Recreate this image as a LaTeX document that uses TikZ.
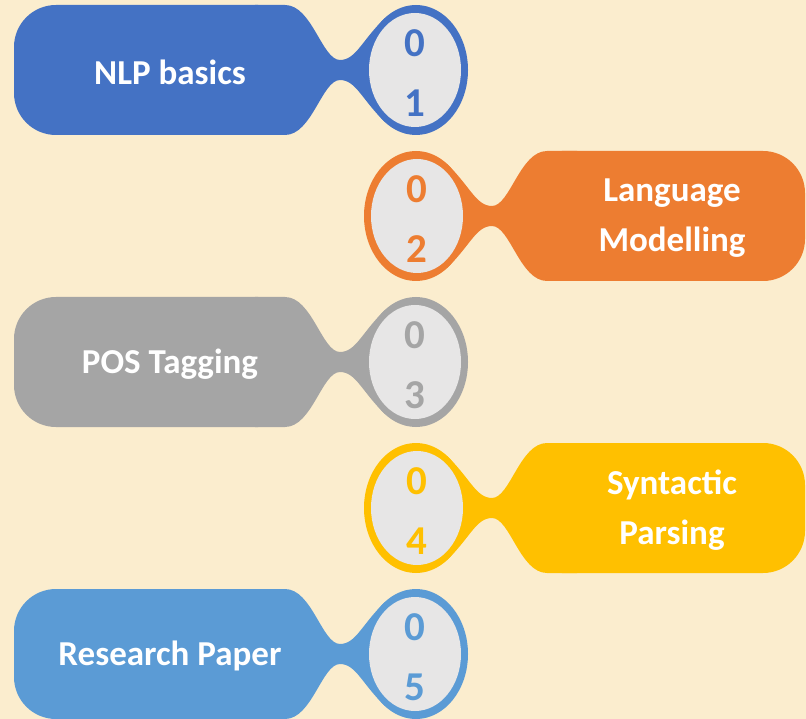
\documentclass[tikz,border=0pt]{standalone}
\usepackage{fontspec}
\setmainfont{Carlito}
\definecolor{bgc}{HTML}{FBEDCE}
\definecolor{inn}{HTML}{E7E6E6}
\definecolor{cA}{HTML}{4472C4}
\definecolor{cB}{HTML}{ED7D31}
\definecolor{cC}{HTML}{A5A5A5}
\definecolor{cD}{HTML}{FFC000}
\definecolor{cE}{HTML}{5B9BD5}
\tikzset{
  lbl/.style={text=white,font=\fontsize{35}{50}\selectfont\bfseries,align=center,inner sep=0pt},
  dig/.style={font=\fontsize{41}{44}\selectfont\bfseries,inner sep=0pt},
}
\newcommand{\leftitem}[5]{%
  \begin{scope}[shift={(0,#1)}]
    \fill[#2,rounded corners=42] (14,-65) rectangle (300,65);
    \fill[#2] (255,-65) -- (285,-65) .. controls (312,-65) and (322,-10) .. (340,-10)
      .. controls (356,-10) and (362,-30) .. (385,-52) -- (385,52)
      .. controls (362,30) and (356,10) .. (340,10)
      .. controls (322,10) and (312,65) .. (285,65) -- (255,65) -- cycle;
    \fill[#2] (416,0) ellipse [x radius=52, y radius=65];
    \fill[inn] (415,0) ellipse [x radius=46, y radius=57];
    \node[lbl] (t#5) at (170,2) {#3};
    \node[dig,text=#2] (d#5a) at (415,-27) {0};
    \node[dig,text=#2] (d#5b) at (415,33) {#4};
  \end{scope}}
\newcommand{\rightitem}[5]{%
  \begin{scope}[shift={(0,#1)}]
    \fill[#2,rounded corners=42] (520,-65) rectangle (805,65);
    \fill[#2] (577,-65) -- (547,-65) .. controls (520,-65) and (510,-10) .. (492,-10)
      .. controls (476,-10) and (470,-30) .. (447,-52) -- (447,52)
      .. controls (470,30) and (476,10) .. (492,10)
      .. controls (510,10) and (520,65) .. (547,65) -- (577,65) -- cycle;
    \fill[#2] (416,0) ellipse [x radius=52, y radius=65];
    \fill[inn] (417,0) ellipse [x radius=46, y radius=57];
    \node[lbl] (t#5) at (672,2) {#3};
    \node[dig,text=#2] (d#5a) at (417,-27) {0};
    \node[dig,text=#2] (d#5b) at (417,33) {#4};
  \end{scope}}
\begin{document}
\begin{tikzpicture}[x=1pt,y=-1pt]
\fill[bgc] (0,0) rectangle (806,719);
\useasboundingbox (0,0) rectangle (806,719);
\leftitem{70}{cA}{NLP basics}{1}{a}
\rightitem{216}{cB}{Language\\Modelling}{2}{b}
\leftitem{362}{cC}{POS Tagging}{3}{c}
\rightitem{508}{cD}{Syntactic\\Parsing}{4}{d}
\leftitem{654}{cE}{Research Paper}{5}{e}
\end{tikzpicture}
\end{document}
